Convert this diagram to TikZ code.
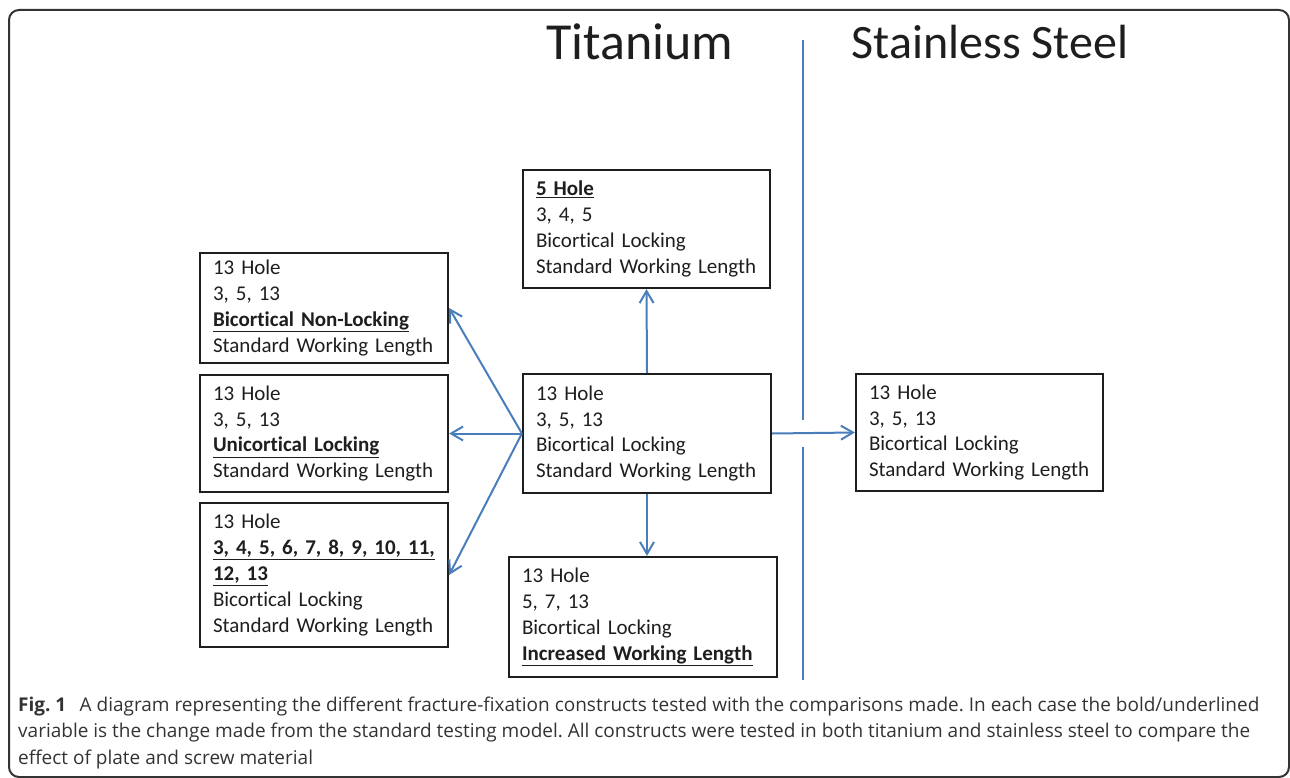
\documentclass[tikz,border=0pt]{standalone}
\usepackage{fontspec}
\setmainfont{Carlito}[Ligatures=NoCommon]
\newfontfamily\capfont{Open Sans}
\usetikzlibrary{arrows.meta}
\definecolor{arrowblue}{HTML}{4A7EBB}
\definecolor{inkdark}{HTML}{1E1E1E}
\definecolor{framegray}{HTML}{333333}
\definecolor{captext}{HTML}{333333}
\newcommand{\boldul}[1]{\underline{\textbf{#1}}}
\frenchspacing
\begin{document}
\begin{tikzpicture}[x=1pt,y=-1pt,
  cbox/.style={draw=inkdark, line width=2.2pt, inner xsep=13pt, inner ysep=0pt,
    align=left, text=inkdark, font=\fontsize{21}{25.8}\selectfont, anchor=center},
  link/.style={draw=arrowblue, line width=2pt, -{Straight Barb[length=12pt,width=14pt,line width=2pt]}},
  divider/.style={draw=arrowblue, line width=2pt},
  heading/.style={text=inkdark, anchor=center},
  capline/.style={text=captext, font=\capfont\fontsize{19}{24}\selectfont, anchor=base west, inner sep=0pt},
]
\useasboundingbox (0,0) rectangle (1290,778);
\draw[framegray, line width=2pt, rounded corners=10pt] (9,10) rectangle (1289,777);

\node[heading, font=\fontsize{52}{56}\selectfont] (ti) at (640,42) {Titanium};
\node[heading, font=\fontsize{48}{56}\selectfont] (ss) at (990,42) {Stainless Steel};

\coordinate (vtop) at (803,40);
\coordinate (vgapA) at (803,420);
\coordinate (vgapB) at (803,447);
\coordinate (vbot) at (803,680);
\draw[divider] (vtop) -- (vgapA);
\draw[divider] (vgapB) -- (vbot);

\node[cbox, minimum width=247pt, minimum height=118pt, text width=221pt] (t5) at (646.5,229)
  {\boldul{5 Hole}\\3, 4, 5\\Bicortical Locking\\\mbox{Standard Working Length}};
\node[cbox, minimum width=248pt, minimum height=119pt, text width=222pt] (c) at (647,433.5)
  {13 Hole\\3, 5, 13\\Bicortical Locking\\\mbox{Standard Working Length}};
\node[cbox, minimum width=248pt, minimum height=110pt, text width=222pt] (l1) at (324,308)
  {13 Hole\\3, 5, 13\\\boldul{Bicortical Non-Locking}\\\mbox{Standard Working Length}};
\node[cbox, minimum width=248pt, minimum height=117pt, text width=222pt] (l2) at (324,433.5)
  {13 Hole\\3, 5, 13\\\boldul{Unicortical Locking}\\\mbox{Standard Working Length}};
\node[cbox, minimum width=248pt, minimum height=144pt, text width=222pt] (l3) at (324,575)
  {13 Hole\\\mbox{\boldul{3, 4, 5, 6, 7, 8, 9, 10, 11,}}\\\boldul{12, 13}\\Bicortical Locking\\\mbox{Standard Working Length}};
\node[cbox, minimum width=268pt, minimum height=120pt, text width=242pt] (b) at (643,617)
  {13 Hole\\5, 7, 13\\Bicortical Locking\\\mbox{\boldul{Increased Working Length}}};
\node[cbox, minimum width=247pt, minimum height=117pt, text width=221pt] (r) at (979.5,432.5)
  {13 Hole\\3, 5, 13\\Bicortical Locking\\\mbox{Standard Working Length}};

\draw[link] (c.west) -- (l1.east);
\draw[link] (c.west) -- (l2.east);
\draw[link] (c.west) -- (l3.east);
\draw[link] (c.north) -- (t5.south);
\draw[link] (c.south) -- (c.south |- b.north);
\draw[link] (c.east) -- (r.west);

\node[capline] (cap1) at (18,711) {\textbf{Fig. 1}\hspace{0.7em}A diagram representing the different fracture-fixation constructs tested with the comparisons made. In each case the bold/underlined};
\node[capline] (cap2) at (18,737.5) {variable is the change made from the standard testing model. All constructs were tested in both titanium and stainless steel to compare the};
\node[capline] (cap3) at (18,764) {effect of plate and screw material};
\end{tikzpicture}
\end{document}
